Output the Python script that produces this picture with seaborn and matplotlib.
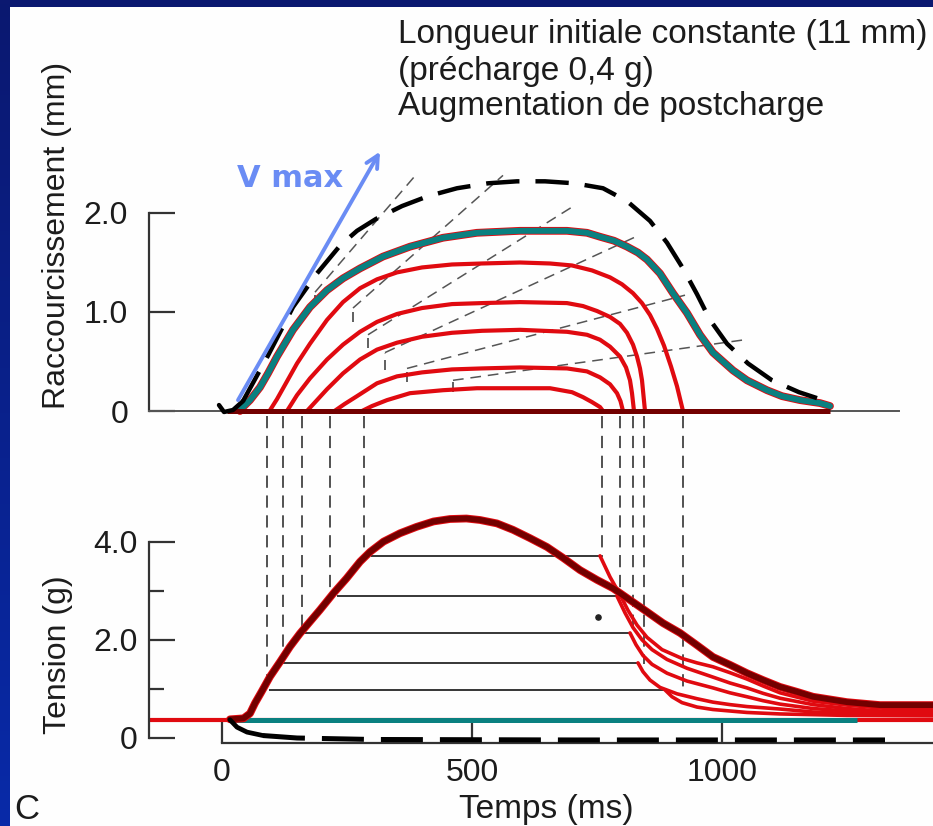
import matplotlib
matplotlib.use("Agg")
import numpy as np
import pandas as pd
import matplotlib.pyplot as plt
import seaborn as sns
from matplotlib.patches import Rectangle

# ---------------------------------------------------------------- data
# Top panel : shortening (mm) versus time (ms)
vmax_t = [32, 316]
vmax_s = [0.11, 2.62]

maxdash_t = [-6, 4, 22, 42, 92, 142, 190, 236, 270, 308, 360, 412, 470, 532, 590, 646, 705, 762, 810, 856,
             890, 922, 950, 976, 1010, 1052, 1100, 1154, 1190]
maxdash_s = [0.06, -0.01, 0.01, 0.10, 0.56, 1.05, 1.39, 1.67, 1.82, 1.94, 2.07, 2.17, 2.25, 2.30, 2.32, 2.32,
             2.30, 2.25, 2.12, 1.92, 1.70, 1.44, 1.18, 0.92, 0.68, 0.48, 0.31, 0.19, 0.13]

teal_t = [36, 42, 56, 76, 92, 110, 142, 176, 210, 242, 276, 322, 376, 442, 510, 596, 690, 730, 756, 784, 810,
          832, 850, 876, 902, 930, 956, 982, 1022, 1050, 1090, 1120, 1156, 1196, 1216]
teal_s = [0.0, 0.04, 0.11, 0.24, 0.38, 0.55, 0.82, 1.05, 1.22, 1.34, 1.44, 1.56, 1.66, 1.75, 1.80, 1.82, 1.82,
          1.80, 1.76, 1.72, 1.66, 1.60, 1.53, 1.39, 1.19, 0.99, 0.77, 0.59, 0.41, 0.31, 0.21, 0.15, 0.11, 0.08, 0.05]

red1_t = [95, 110, 130, 150, 176, 210, 242, 276, 310, 350, 400, 460, 520, 596, 656, 700, 740, 776, 800, 822,
          840, 856, 870, 884, 898, 910, 922]
red1_s = [0.0, 0.12, 0.30, 0.48, 0.68, 0.92, 1.10, 1.24, 1.33, 1.40, 1.45, 1.48, 1.49, 1.50, 1.49, 1.47, 1.42,
          1.35, 1.28, 1.19, 1.09, 0.97, 0.83, 0.66, 0.45, 0.25, 0.0]
red2_t = [130, 150, 176, 210, 242, 276, 310, 350, 400, 460, 520, 596, 690, 722, 750, 776, 796, 810, 822, 830,
          836, 840, 846]
red2_s = [0.0, 0.16, 0.33, 0.52, 0.67, 0.80, 0.90, 0.98, 1.04, 1.08, 1.09, 1.10, 1.09, 1.06, 1.01, 0.95, 0.88,
          0.79, 0.67, 0.55, 0.43, 0.31, 0.0]
red3_t = [170, 190, 210, 242, 276, 310, 350, 400, 460, 520, 596, 690, 730, 756, 776, 796, 808, 816, 820, 824]
red3_s = [0.0, 0.11, 0.22, 0.38, 0.52, 0.62, 0.69, 0.75, 0.79, 0.81, 0.82, 0.80, 0.77, 0.72, 0.65, 0.55, 0.44,
          0.31, 0.18, 0.0]
red4_t = [225, 245, 270, 310, 350, 400, 460, 520, 596, 690, 730, 756, 776, 790, 797, 802]
red4_s = [0.0, 0.07, 0.15, 0.28, 0.35, 0.39, 0.42, 0.43, 0.44, 0.43, 0.40, 0.34, 0.27, 0.18, 0.10, 0.0]
red5_t = [280, 300, 330, 376, 442, 510, 596, 656, 700, 722, 740, 756, 762]
red5_s = [0.0, 0.05, 0.11, 0.18, 0.21, 0.23, 0.23, 0.23, 0.19, 0.14, 0.09, 0.04, 0.0]

base_top_t = [10, 1216]
base_top_s = [0.0, 0.0]

# tangent (velocity) lines: start time, start value, end time, end value, foot value
tan_t0 = [186, 262, 292, 326, 370, 462]
tan_s0 = [1.20, 1.04, 0.77, 0.59, 0.43, 0.31]
tan_t1 = [392, 562, 700, 836, 926, 1046]
tan_s1 = [2.41, 2.38, 2.06, 1.78, 1.17, 0.72]
tan_foot = [1.07, 0.90, 0.64, 0.41, 0.29, 0.19]

# Bottom panel : tension (g) versus time (ms)
iso_t = [16, 43, 56, 66, 79, 96, 116, 136, 156, 176, 196, 223, 249, 276, 296, 323, 356, 389, 423, 456, 489,
         516, 550, 582, 616, 650, 682, 716, 750, 782, 816, 850, 882, 916, 950, 982, 1016, 1050, 1082, 1116,
         1150, 1182, 1250, 1316, 1422]
iso_T = [0.38, 0.40, 0.50, 0.71, 0.94, 1.25, 1.55, 1.86, 2.13, 2.37, 2.61, 2.95, 3.25, 3.59, 3.79, 4.00, 4.17,
         4.30, 4.41, 4.46, 4.47, 4.44, 4.37, 4.24, 4.07, 3.89, 3.67, 3.42, 3.22, 3.05, 2.81, 2.57, 2.34, 2.14,
         1.89, 1.65, 1.49, 1.32, 1.18, 1.04, 0.94, 0.84, 0.73, 0.67, 0.67]

preload_t = [-146, 1422]
preload_T = [0.37, 0.37]
teal_bot_t = [20, 1270]
teal_bot_T = [0.37, 0.37]

dash_bot_t = [16, 30, 50, 82, 150, 300, 700, 1326]
dash_bot_T = [0.37, 0.22, 0.12, 0.05, 0.0, -0.03, -0.04, -0.04]

afterload = [3.71, 2.89, 2.14, 1.53, 0.98]
plateau_start = [298, 230, 158, 118, 94]
plateau_end = [756, 790, 816, 832, 886]
onset_t = [284, 216, 160, 122, 90]
release_t = [760, 796, 822, 844, 922]

relax1_t = [756, 776, 796, 812, 830, 850, 880, 920, 950, 982, 1016, 1050, 1082, 1116, 1182, 1250, 1330, 1422]
relax1_T = [3.71, 3.28, 2.92, 2.60, 2.30, 2.05, 1.80, 1.62, 1.53, 1.45, 1.33, 1.20, 1.06, 0.92, 0.75, 0.67,
            0.60, 0.56]
relax2_t = [790, 806, 822, 840, 860, 890, 930, 982, 1016, 1050, 1082, 1116, 1182, 1250, 1330, 1422]
relax2_T = [2.89, 2.55, 2.25, 2.00, 1.80, 1.60, 1.42, 1.24, 1.12, 1.02, 0.91, 0.81, 0.68, 0.60, 0.54, 0.52]
relax3_t = [816, 828, 842, 860, 890, 930, 982, 1016, 1050, 1082, 1116, 1182, 1250, 1330, 1422]
relax3_T = [2.14, 1.90, 1.68, 1.50, 1.32, 1.16, 1.02, 0.92, 0.84, 0.76, 0.69, 0.60, 0.55, 0.51, 0.49]
relax4_t = [832, 842, 856, 876, 910, 950, 982, 1016, 1050, 1116, 1182, 1250, 1330, 1422]
relax4_T = [1.53, 1.35, 1.18, 1.03, 0.90, 0.80, 0.73, 0.68, 0.64, 0.59, 0.53, 0.50, 0.48, 0.47]
relax5_t = [886, 900, 920, 950, 982, 1050, 1116, 1250, 1422]
relax5_T = [0.98, 0.84, 0.72, 0.63, 0.58, 0.52, 0.49, 0.46, 0.45]

spot_t = [752]
spot_T = [2.46]

top_yticks = [0, 1.0, 2.0]
top_ylabels = ["0", "1.0", "2.0"]
bot_yticks = [0, 2.0, 4.0]
bot_ylabels = ["0", "2.0", "4.0"]
bot_yminor = [1.0, 3.0]
xticks = [0, 500, 1000]
xlabels = ["0", "500", "1000"]

title_lines = ["Longueur initiale constante (11 mm)", "(précharge 0,4 g)", "Augmentation de postcharge"]

# ---------------------------------------------------------------- style
RED = "#e00a10"
DARKRED = "#730000"
TEAL = "#0a8080"
BLUE = "#6a8cf4"
NAVY = "#0b1870"
INK = "#1c1c1c"

sns.set_theme(style="white")
plt.rcParams["font.family"] = ["Liberation Sans", "DejaVu Sans"]

W, H = 933, 826
fig = plt.figure(figsize=(W / 100, H / 100), dpi=100, facecolor=NAVY)

# left border gradient and white page
gax = fig.add_axes([0, 0, 10 / W, 1])
grad = np.linspace(0, 1, 200)[:, None]
c0 = np.array([0x0b, 0x18, 0x70]) / 255
c1 = np.array([0x08, 0x2a, 0xa8]) / 255
img = c0[None, None, :] * (1 - grad[:, :, None]) + c1[None, None, :] * grad[:, :, None]
gax.imshow(img, aspect="auto", extent=[0, 1, 0, 1])
gax.set_axis_off()
page = Rectangle((10 / W, 0), 1 - 10 / W, 1 - 7 / H, transform=fig.transFigure,
                 facecolor="#fefefe", edgecolor="none", zorder=-5)
fig.patches.append(page)

XLIM = (-444, 1422)
ax_top = fig.add_axes([0, 0, 1, 1])
ax_bot = fig.add_axes([0, 0, 1, 1])
for ax in (ax_top, ax_bot):
    ax.patch.set_visible(False)
    for s in ("top", "right"):
        ax.spines[s].set_visible(False)


def draw(ax, x, y, color, lw, z, dashes=None, cap="round"):
    sns.lineplot(x=list(x), y=list(y), ax=ax, color=color, linewidth=lw, sort=False,
                 estimator=None, legend=False, zorder=z)
    ln = ax.lines[-1]
    if dashes is not None:
        ln.set_dashes(dashes)
        ln.set_dash_capstyle("butt")
    ln.set_solid_capstyle(cap)
    ln.set_solid_joinstyle("round")
    ln.set_clip_on(False)
    return ln


# ---------------- top panel
for t0, s0, t1, s1, sf in zip(tan_t0, tan_s0, tan_t1, tan_s1, tan_foot):
    draw(ax_top, [t0, t0], [sf, s0], "#444444", 1.2, 1, dashes=(6, 4))
    draw(ax_top, [t0, t1], [s0, s1], "#555555", 1.1, 1, dashes=(7, 4.5))

for tt, ss in [(red5_t, red5_s), (red4_t, red4_s), (red3_t, red3_s), (red2_t, red2_s), (red1_t, red1_s)]:
    draw(ax_top, tt, ss, RED, 3.0, 2)
draw(ax_top, teal_t, teal_s, RED, 5.6, 3)
draw(ax_top, teal_t, teal_s, TEAL, 4.3, 3.1)
draw(ax_top, base_top_t, base_top_s, DARKRED, 3.6, 3.2, cap="butt")
draw(ax_top, maxdash_t[:4], maxdash_s[:4], "black", 3.2, 4)
draw(ax_top, maxdash_t[3:], maxdash_s[3:], "black", 3.2, 4, dashes=(7.5, 3.6))

ax_top.annotate("", xy=(vmax_t[1], vmax_s[1]), xytext=(vmax_t[0], vmax_s[0]),
                arrowprops=dict(arrowstyle="->", color=BLUE, lw=2.8, mutation_scale=22,
                                shrinkA=0, shrinkB=0), zorder=6, annotation_clip=False)

ax_top.set_xlim(XLIM)
ax_top.set_ylim(-4.1919, 4.1515)
ax_top.spines["left"].set_position(("data", -146))
ax_top.spines["left"].set_bounds(0, 2.0)
ax_top.spines["bottom"].set_position(("data", 0))
ax_top.spines["bottom"].set_bounds(-146, 1354)
ax_top.spines["left"].set_color("#333333")
ax_top.spines["left"].set_linewidth(1.6)
ax_top.spines["bottom"].set_color("#555555")
ax_top.spines["bottom"].set_linewidth(1.4)
ax_top.set_xticks([])
ax_top.set_yticks(top_yticks)
ax_top.set_yticklabels(top_ylabels)
ax_top.tick_params(axis="y", direction="in", length=19, width=1.6, color="#333333",
                   pad=15, labelsize=23, labelcolor=INK, left=True)

# ---------------- bottom panel
for t, lvl in zip(onset_t, afterload):
    draw(ax_bot, [t, t], [6.55, lvl], "#222222", 1.1, 1, dashes=(8, 5))
for t, lvl in zip(release_t, afterload):
    draw(ax_bot, [t, t], [6.55, lvl - 0.03], "#222222", 1.1, 1, dashes=(8, 5))
for a, p0, p1 in zip(afterload, plateau_start, plateau_end):
    draw(ax_bot, [p0, p1], [a, a], "#262626", 1.3, 2, cap="butt")

draw(ax_bot, preload_t, preload_T, RED, 3.0, 2, cap="butt")
for tt, TT in [(relax5_t, relax5_T), (relax4_t, relax4_T), (relax3_t, relax3_T),
               (relax2_t, relax2_T), (relax1_t, relax1_T)]:
    draw(ax_bot, tt, TT, RED, 2.6, 3)
draw(ax_bot, teal_bot_t, teal_bot_T, TEAL, 3.6, 3.5, cap="butt")
draw(ax_bot, iso_t, iso_T, RED, 5.6, 4)
draw(ax_bot, iso_t, iso_T, DARKRED, 4.2, 4.1)
draw(ax_bot, dash_bot_t[:4], dash_bot_T[:4], "black", 3.4, 4.5)
draw(ax_bot, dash_bot_t[3:], dash_bot_T[3:], "black", 3.6, 4.5, dashes=(8.4, 3.4))
ax_bot.scatter(spot_t, spot_T, s=14, color="#222222", zorder=5)

ax_bot.set_xlim(XLIM)
ax_bot.set_ylim(-1.7923, 15.0305)
ax_bot.spines["left"].set_position(("data", -146))
ax_bot.spines["left"].set_bounds(0, 4.0)
ax_bot.spines["bottom"].set_position(("data", -0.1))
ax_bot.spines["bottom"].set_bounds(0, 1422)
for s in ("left", "bottom"):
    ax_bot.spines[s].set_color("#333333")
    ax_bot.spines[s].set_linewidth(1.6)
ax_bot.set_yticks(bot_yticks)
ax_bot.set_yticklabels(bot_ylabels)
ax_bot.set_yticks(bot_yminor, minor=True)
ax_bot.tick_params(axis="y", which="major", direction="in", length=19, width=1.6, color="#333333",
                   pad=8, labelsize=23, labelcolor=INK, left=True)
ax_bot.tick_params(axis="y", which="minor", direction="in", length=11, width=1.6, color="#333333", left=True)
ax_bot.set_xticks(xticks)
ax_bot.set_xticklabels(xlabels)
ax_bot.tick_params(axis="x", direction="in", length=15, width=1.6, color="#333333",
                   pad=11, labelsize=23, labelcolor=INK, bottom=True)
ax_bot.set_xlabel("")
ax_bot.set_ylabel("")
ax_top.set_xlabel("")
ax_top.set_ylabel("")

# ---------------- texts
for line, yb in zip(title_lines, [43, 80, 115]):
    fig.text(398 / W, 1 - yb / H, line, fontsize=24, color=INK, ha="left", va="baseline")
fig.text(237 / W, 1 - 187 / H, "V max", fontsize=22, fontweight="bold", color=BLUE,
         family=["DejaVu Sans"], ha="left", va="baseline")
fig.text(57 / W, 1 - 235 / H, "Raccourcissement (mm)", fontsize=23, color=INK, rotation=90,
         ha="center", va="center")
fig.text(58 / W, 1 - 655 / H, "Tension (g)", fontsize=23, color=INK, rotation=90,
         ha="center", va="center")
fig.text(546 / W, 1 - 818 / H, "Temps (ms)", fontsize=24, color=INK, ha="center", va="baseline")
fig.text(14 / W, 1 - 819 / H, "C", fontsize=25, color=INK, ha="left", va="baseline")

fig.savefig("out.png", dpi=100, facecolor=NAVY)
